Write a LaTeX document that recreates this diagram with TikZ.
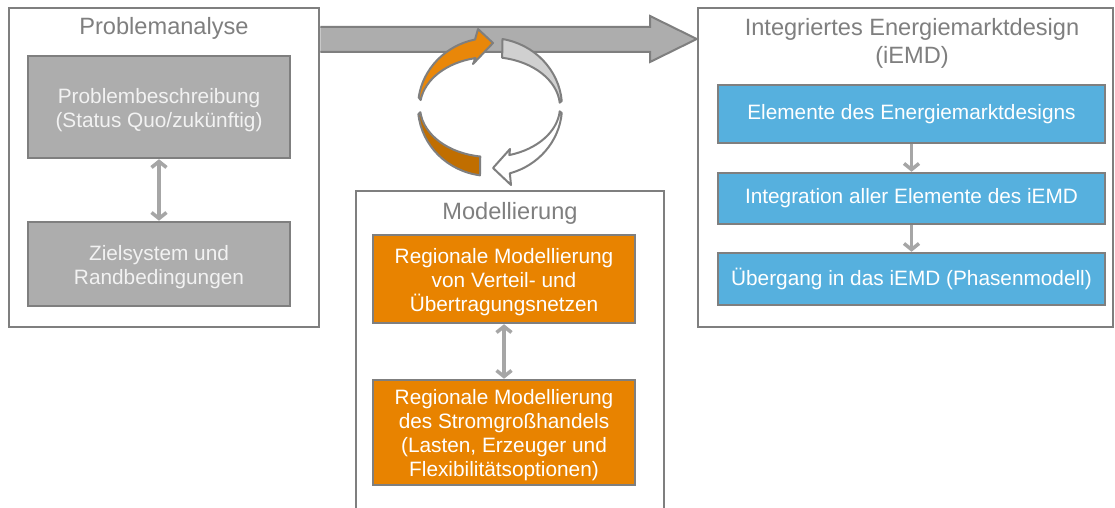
\documentclass[tikz,border=0pt]{standalone}
\usepackage{fontspec}
\setmainfont{Liberation Sans}
\usetikzlibrary{arrows.meta,calc}

\definecolor{framegray}{HTML}{7F7F7F}
\definecolor{boxgray}{HTML}{ADADAD}
\definecolor{linkgray}{HTML}{A6A6A6}
\definecolor{textlight}{HTML}{F2F2F2}
\definecolor{orfill}{HTML}{E88300}
\definecolor{orlight}{HTML}{E98709}
\definecolor{ordark}{HTML}{C06E00}
\definecolor{cyclight}{HTML}{D0D0D0}
\definecolor{bluefill}{HTML}{56B0DE}

\tikzset{
  frame/.style={draw=framegray, line width=2.5pt, fill=white},
  titletext/.style={text=framegray, font=\fontsize{23.6}{28}\selectfont, align=center},
  stepbox/.style={draw=framegray, line width=2.5pt, minimum width=262pt, inner sep=0pt},
  graybox/.style={stepbox, fill=boxgray},
  orangebox/.style={stepbox, fill=orfill},
  bluebox/.style={stepbox, fill=bluefill, minimum width=387pt},
  boxtext/.style={font=\fontsize{20.8}{24}\selectfont, align=center, inner sep=0pt, text=white},
  link/.style={draw=linkgray, line width=3.5pt,
    arrows={Straight Barb[length=6pt,width=15pt]-Straight Barb[length=6pt,width=15pt]}},
  flow/.style={draw=linkgray, line width=3.5pt, -{Straight Barb[length=6pt,width=15pt]}},
  cyc/.style={draw=framegray, line width=2pt, line join=round},
  outer arc/.style={x radius=72pt, y radius=69pt},
  inner arc/.style={x radius=70pt, y radius=50pt},
}

\begin{document}
\begin{tikzpicture}[x=1pt,y=1pt]
  \clip (0,0) rectangle (1115,508);
  \fill[white] (0,0) rectangle (1115,508);

  % Problemanalyse
  \node[frame, minimum width=310pt, minimum height=319pt] (pa) at (164,340.5) {};
  \node[titletext] (patitle) at (164,479.5) {Problemanalyse};
  \node[graybox, minimum height=102pt] (pb1) at (159,401) {};
  \node[boxtext, text=textlight] (pb1text) at ([yshift=-3pt]pb1.center)
    {Problembeschreibung\\(Status Quo/zukünftig)};
  \node[graybox, minimum height=84pt] (pb2) at (159,244) {};
  \node[boxtext, text=textlight] (pb2text) at ([yshift=-3pt]pb2.center)
    {Zielsystem und\\Randbedingungen};
  \draw[link] (pb1.south) -- (pb2.north);

  % Integriertes Energiemarktdesign
  \node[frame, minimum width=415pt, minimum height=319pt] (iemd) at (905.5,340.5) {};
  \node[titletext] (iemdtitle) at (912,465) {Integriertes Energiemarktdesign\\(iEMD)};
  \node[bluebox, minimum height=58pt] (b1) at (911.5,394) {};
  \node[boxtext] (b1text) at (b1.center) {Elemente des Energiemarktdesigns};
  \node[bluebox, minimum height=51pt] (b2) at (911.5,309.5) {};
  \node[boxtext] (b2text) at (b2.center) {Integration aller Elemente des iEMD};
  \node[bluebox, minimum height=52pt] (b3) at (911.5,229) {};
  \node[boxtext] (b3text) at (b3.center) {Übergang in das iEMD (Phasenmodell)};
  \draw[flow] (b1.south) -- (b2.north);
  \draw[flow] (b2.south) -- (b3.north);

  % Modellierung (runs past the lower edge)
  \node[frame, minimum width=308pt, minimum height=340pt] (mod) at (510,147) {};
  \node[titletext] (modtitle) at (510,295) {Modellierung};
  \node[orangebox, minimum height=88pt] (m1) at (504,229) {};
  \node[boxtext] (m1text) at ([yshift=-3pt]m1.center)
    {Regionale Modellierung\\von Verteil- und\\Übertragungsnetzen};
  \node[orangebox, minimum height=105pt] (m2) at (504,75.5) {};
  \node[boxtext] (m2text) at ([yshift=-3pt]m2.center)
    {Regionale Modellierung\\des Stromgroßhandels\\(Lasten, Erzeuger und\\Flexibilitätsoptionen)};
  \draw[link] (m1.south) -- (m2.north);

  % broad arrow from Problemanalyse to iEMD
  \draw[draw=framegray, fill=boxgray, line width=2pt, line join=miter]
    (pa.east |- 0,481) -- (650,481) -- (650,492) -- (iemd.west |- 0,469)
    -- (650,446) -- (650,456) -- (pa.east |- 0,456);

  % cycle: a twisted ribbon between an outer and a flatter inner ellipse
  \coordinate (c0) at (490,401);
  % orange, inner face
  \filldraw[cyc, fill=ordark]
    ($(c0)+(186:72pt and 69pt)$) arc[start angle=186, end angle=262, outer arc]
    -- ($(c0)+(262:70pt and 50pt)$) arc[start angle=262, end angle=186, inner arc]
    -- cycle;
  % orange, outer face with head
  \filldraw[cyc, fill=orlight]
    ($(c0)+(172:72pt and 69pt)$) arc[start angle=172, end angle=102, outer arc]
    -- (478,479) -- (493,465) -- (473,444)
    -- ($(c0)+(102:70pt and 50pt)$) arc[start angle=102, end angle=172, inner arc]
    -- cycle;
  % grey, outer face
  \filldraw[cyc, fill=cyclight]
    ($(c0)+(80:72pt and 69pt)$) arc[start angle=80, end angle=5, outer arc]
    -- ($(c0)+(5:70pt and 50pt)$) arc[start angle=5, end angle=80, inner arc]
    -- cycle;
  % white, inner face with head
  \filldraw[cyc, fill=white]
    ($(c0)+(-5:72pt and 69pt)$) arc[start angle=-5, end angle=-74, outer arc]
    -- (511,323) -- (493,340) -- (510,359)
    -- ($(c0)+(-74:70pt and 50pt)$) arc[start angle=-74, end angle=-5, inner arc]
    -- cycle;
\end{tikzpicture}
\end{document}
